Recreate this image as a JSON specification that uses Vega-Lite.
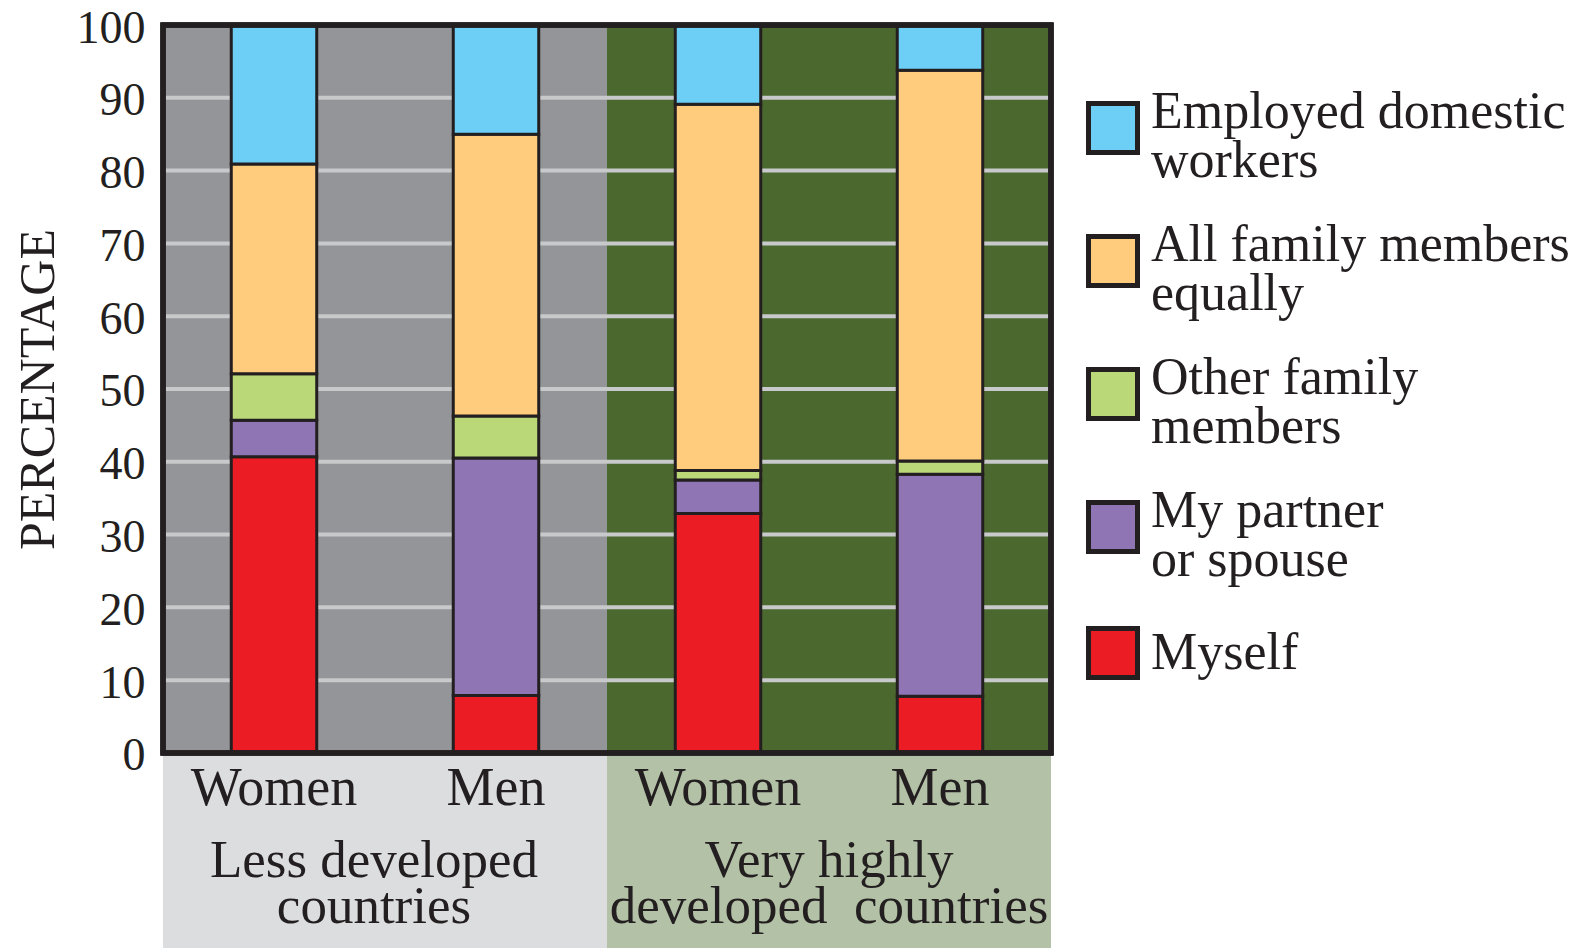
{
  "$schema": "https://vega.github.io/schema/vega-lite/v6.json",
  "width": 888,
  "height": 923,
  "autosize": {"type": "none"},
  "padding": {"left": 163, "top": 25, "right": 536, "bottom": 0},
  "background": "white",
  "config": {
    "view": {"stroke": null},
    "font": "Liberation Serif",
    "style": {"guide-label": {"lineHeight": 49}},
    "axisY": {
      "grid": false, "domain": false, "ticks": false,
      "labelFontSize": 46, "labelColor": "#231f20", "labelPadding": 18, "labelOffset": 3,
      "labelFont": "Liberation Serif", "labelFlush": false, "labelOverlap": false,
      "labelExpr": "datum.value < 0 ? '' : datum.label",
      "titleFont": "Liberation Serif", "titleFontSize": 50, "titleFontWeight": "normal",
      "titleColor": "#231f20", "titleAngle": -90, "titleX": -125, "titleY": 364,
      "titleBaseline": "middle", "titleAlign": "center"
    }
  },
  "datasets": {
    "shares": [
      {"bar": "Less developed · Women", "answer": "Myself", "stack_rank": 1, "percent": 40.7},
      {"bar": "Less developed · Women", "answer": "My partner or spouse", "stack_rank": 2, "percent": 5.0},
      {"bar": "Less developed · Women", "answer": "Other family members", "stack_rank": 3, "percent": 6.4},
      {"bar": "Less developed · Women", "answer": "All family members equally", "stack_rank": 4, "percent": 28.8},
      {"bar": "Less developed · Women", "answer": "Employed domestic workers", "stack_rank": 5, "percent": 19.1},
      {"bar": "Less developed · Men", "answer": "Myself", "stack_rank": 1, "percent": 7.9},
      {"bar": "Less developed · Men", "answer": "My partner or spouse", "stack_rank": 2, "percent": 32.6},
      {"bar": "Less developed · Men", "answer": "Other family members", "stack_rank": 3, "percent": 5.8},
      {"bar": "Less developed · Men", "answer": "All family members equally", "stack_rank": 4, "percent": 38.7},
      {"bar": "Less developed · Men", "answer": "Employed domestic workers", "stack_rank": 5, "percent": 15.0},
      {"bar": "Very highly developed · Women", "answer": "Myself", "stack_rank": 1, "percent": 32.9},
      {"bar": "Very highly developed · Women", "answer": "My partner or spouse", "stack_rank": 2, "percent": 4.6},
      {"bar": "Very highly developed · Women", "answer": "Other family members", "stack_rank": 3, "percent": 1.3},
      {"bar": "Very highly developed · Women", "answer": "All family members equally", "stack_rank": 4, "percent": 50.3},
      {"bar": "Very highly developed · Women", "answer": "Employed domestic workers", "stack_rank": 5, "percent": 10.9},
      {"bar": "Very highly developed · Men", "answer": "Myself", "stack_rank": 1, "percent": 7.8},
      {"bar": "Very highly developed · Men", "answer": "My partner or spouse", "stack_rank": 2, "percent": 30.5},
      {"bar": "Very highly developed · Men", "answer": "Other family members", "stack_rank": 3, "percent": 1.8},
      {"bar": "Very highly developed · Men", "answer": "All family members equally", "stack_rank": 4, "percent": 53.7},
      {"bar": "Very highly developed · Men", "answer": "Employed domestic workers", "stack_rank": 5, "percent": 6.2}
    ],
    "bands": [
      {"bar": "Less developed · Women", "group": "Less developed countries", "label": "Women"},
      {"bar": "Less developed · Men", "group": "Less developed countries", "label": "Men"},
      {"bar": "Very highly developed · Women", "group": "Very highly developed countries", "label": "Women"},
      {"bar": "Very highly developed · Men", "group": "Very highly developed countries", "label": "Men"}
    ],
    "grid": [
      {"v": 10}, {"v": 20}, {"v": 30}, {"v": 40}, {"v": 50},
      {"v": 60}, {"v": 70}, {"v": 80}, {"v": 90}
    ],
    "groups": [
      {"bar": "Less developed · Women", "group": "Less developed countries", "label": "Less developed\ncountries"},
      {"bar": "Very highly developed · Women", "group": "Very highly developed countries", "label": "Very highly\ndeveloped\u00a0 countries"}
    ]
  },
  "layer": [
    {
      "data": {"name": "bands"},
      "mark": {"type": "rect"},
      "encoding": {
        "x": {
          "field": "bar", "type": "nominal", "axis": null,
          "scale": {
            "domain": ["Less developed · Women", "Less developed · Men", "Very highly developed · Women", "Very highly developed · Men"],
            "paddingInner": 0, "paddingOuter": 0
          }
        },
        "y": {
          "datum": 0, "type": "quantitative", "title": "PERCENTAGE",
          "scale": {"domain": [-26.8, 100], "nice": false, "zero": false},
          "axis": {"values": [0, 10, 20, 30, 40, 50, 60, 70, 80, 90, 100]}
        },
        "y2": {"datum": 100},
        "fill": {"condition": {"test": "datum.group == 'Less developed countries'", "value": "#949599"}, "value": "#4b692e"}
      }
    },
    {
      "data": {"name": "bands"},
      "mark": {"type": "rect"},
      "encoding": {
        "x": {"field": "bar", "type": "nominal", "axis": null},
        "y": {"datum": -26.8, "type": "quantitative", "title": "PERCENTAGE", "axis": {"values": [0, 10, 20, 30, 40, 50, 60, 70, 80, 90, 100]}},
        "y2": {"datum": 0},
        "fill": {"condition": {"test": "datum.group == 'Less developed countries'", "value": "#dcdddf"}, "value": "#b3c2a6"}
      }
    },
    {
      "data": {"name": "grid"},
      "mark": {"type": "rule", "color": "#c8c9cb", "strokeWidth": 4},
      "encoding": {
        "y": {"field": "v", "type": "quantitative", "title": "PERCENTAGE", "axis": {"values": [0, 10, 20, 30, 40, 50, 60, 70, 80, 90, 100]}}
      }
    },
    {
      "data": {"name": "shares"},
      "mark": {"type": "bar", "width": {"band": 0.385}, "stroke": "#231f20", "strokeWidth": 3},
      "encoding": {
        "x": {"field": "bar", "type": "nominal", "axis": null},
        "y": {"field": "percent", "type": "quantitative", "stack": "zero", "title": "PERCENTAGE", "axis": {"values": [0, 10, 20, 30, 40, 50, 60, 70, 80, 90, 100]}},
        "order": {"field": "stack_rank", "type": "quantitative", "sort": "ascending"},
        "color": {
          "field": "answer", "type": "nominal",
          "sort": ["Myself", "My partner or spouse", "Other family members", "All family members equally", "Employed domestic workers"],
          "scale": {"range": ["#ec1c24", "#8f75b4", "#bbd878", "#fecc7c", "#6dcff6"]},
          "legend": {
            "orient": "none", "legendX": 923, "legendY": 76,
            "title": null,
            "values": ["Employed domestic workers", "All family members equally", "Other family members", "My partner or spouse", "Myself"],
            "symbolType": "square", "symbolSize": 2401,
            "symbolStrokeColor": "#231f20", "symbolStrokeWidth": 5, "symbolOpacity": 1,
            "labelFont": "Liberation Serif", "labelFontSize": 52, "labelColor": "#231f20",
            "labelOffset": 11, "labelLimit": 700, "rowPadding": 32,
            "labelBaseline": {"expr": "datum.value == 'Myself' ? 'middle' : 'alphabetic'"},
            "labelExpr": "datum.label == 'Employed domestic workers' ? ['Employed domestic', 'workers'] : datum.label == 'All family members equally' ? ['All family members', 'equally'] : datum.label == 'Other family members' ? ['Other family', 'members'] : datum.label == 'My partner or spouse' ? ['My partner', 'or spouse'] : datum.label"
          }
        }
      }
    },
    {
      "data": {"name": "bands"},
      "mark": {"type": "rect", "fillOpacity": 0, "fill": "white", "stroke": "#231f20", "strokeWidth": 5},
      "encoding": {
        "y": {"datum": 0, "type": "quantitative", "title": "PERCENTAGE", "axis": {"values": [0, 10, 20, 30, 40, 50, 60, 70, 80, 90, 100]}},
        "y2": {"datum": 100}
      }
    },
    {
      "data": {"name": "bands"},
      "mark": {"type": "text", "fontSize": 54, "baseline": "alphabetic", "align": "center", "color": "#231f20", "font": "Liberation Serif"},
      "encoding": {
        "x": {"field": "bar", "type": "nominal", "axis": null},
        "y": {"datum": -7.16, "type": "quantitative", "title": "PERCENTAGE", "axis": {"values": [0, 10, 20, 30, 40, 50, 60, 70, 80, 90, 100]}},
        "text": {"field": "label", "type": "nominal"}
      }
    },
    {
      "data": {"name": "groups"},
      "transform": [{"filter": "datum.group == 'Less developed countries'"}],
      "mark": {"type": "text", "fontSize": 53, "lineHeight": 46, "lineBreak": "\n", "baseline": "alphabetic", "align": "center", "dx": -11, "color": "#231f20", "font": "Liberation Serif"},
      "encoding": {
        "x": {"field": "bar", "type": "nominal", "bandPosition": 1, "axis": null},
        "y": {"datum": -17, "type": "quantitative", "title": "PERCENTAGE", "axis": {"values": [0, 10, 20, 30, 40, 50, 60, 70, 80, 90, 100]}},
        "text": {"field": "label", "type": "nominal"}
      }
    },
    {
      "data": {"name": "groups"},
      "transform": [{"filter": "datum.group == 'Very highly developed countries'"}],
      "mark": {"type": "text", "fontSize": 53, "lineHeight": 46, "lineBreak": "\n", "baseline": "alphabetic", "align": "center", "color": "#231f20", "font": "Liberation Serif"},
      "encoding": {
        "x": {"field": "bar", "type": "nominal", "bandPosition": 1, "axis": null},
        "y": {"datum": -17, "type": "quantitative", "title": "PERCENTAGE", "axis": {"values": [0, 10, 20, 30, 40, 50, 60, 70, 80, 90, 100]}},
        "text": {"field": "label", "type": "nominal"}
      }
    }
  ]
}
